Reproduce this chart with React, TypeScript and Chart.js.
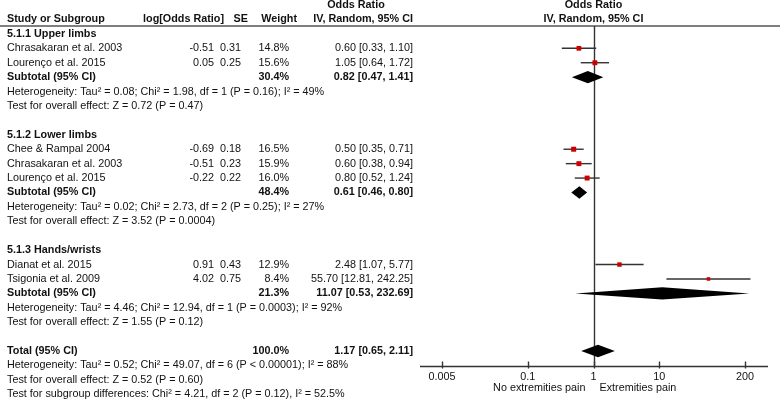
import React, { useEffect, useRef } from 'react';
import { Chart, registerables } from 'chart.js';

Chart.register(...registerables);

// ---------------- data ----------------
const groupTitles = ['5.1.1 Upper limbs', '5.1.2 Lower limbs', '5.1.3 Hands/wrists'];
const studyNames = [
  'Chrasakaran et al. 2003',
  'Lourenço et al. 2015',
  'Chee & Rampal 2004',
  'Chrasakaran et al. 2003',
  'Lourenço et al. 2015',
  'Dianat et al. 2015',
  'Tsigonia et al. 2009',
];
const studyGroup = [0, 0, 1, 1, 1, 2, 2];
const logOR = [-0.51, 0.05, -0.69, -0.51, -0.22, 0.91, 4.02];
const seValues = [0.31, 0.25, 0.18, 0.23, 0.22, 0.43, 0.75];
const weights = [14.8, 15.6, 16.5, 15.9, 16.0, 12.9, 8.4];
const orEst = [0.6, 1.05, 0.5, 0.6, 0.8, 2.48, 55.7];
const orLow = [0.33, 0.64, 0.35, 0.38, 0.52, 1.07, 12.81];
const orHigh = [1.1, 1.72, 0.71, 0.94, 1.24, 5.77, 242.25];

const subWeights = [30.4, 48.4, 21.3];
const subEst = [0.82, 0.61, 11.07];
const subLow = [0.47, 0.46, 0.53];
const subHigh = [1.41, 0.8, 232.69];
const hetTexts = [
  'Heterogeneity: Tau² = 0.08; Chi² = 1.98, df = 1 (P = 0.16); I² = 49%',
  'Heterogeneity: Tau² = 0.02; Chi² = 2.73, df = 2 (P = 0.25); I² = 27%',
  'Heterogeneity: Tau² = 4.46; Chi² = 12.94, df = 1 (P = 0.0003); I² = 92%',
];
const effectTexts = [
  'Test for overall effect: Z = 0.72 (P = 0.47)',
  'Test for overall effect: Z = 3.52 (P = 0.0004)',
  'Test for overall effect: Z = 1.55 (P = 0.12)',
];

const totalWeight = 100.0;
const totalEst = 1.17;
const totalLow = 0.65;
const totalHigh = 2.11;
const totalNotes = [
  'Heterogeneity: Tau² = 0.52; Chi² = 49.07, df = 6 (P < 0.00001); I² = 88%',
  'Test for overall effect: Z = 0.52 (P = 0.60)',
  'Test for subgroup differences: Chi² = 4.21, df = 2 (P = 0.12), I² = 52.5%',
];

const xTicks = [0.005, 0.1, 1, 10, 200];
const xTickLabels = ['0.005', '0.1', '1', '10', '200'];
const favourLeft = 'No extremities pain';
const favourRight = 'Extremities pain';
const headerCols = ['Study or Subgroup', 'log[Odds Ratio]', 'SE', 'Weight', 'Odds Ratio', 'IV, Random, 95% CI'];

// ---------------- layout / style ----------------
const W = 780;
const H = 404;
const FONT = '"Liberation Sans", Arial, Helvetica, sans-serif';
const FS = 10.8;
const TXT = '#111';
const LINE = '#333';
const RED = '#cc0000';
const COL_NAME_X = 7;
const COL_LOG_R = 214;
const COL_SE_R = 241;
const COL_W_R = 289;
const COL_OR_R = 413;
const HDR_LOG_R = 224;
const HDR_SE_R = 248;
const HDR_W_R = 297;
const HDR_OR_C = 356;
const DIAMOND_HALF = 6.2;

type Row = { k: number; kind: string; idx: number };

function buildRows(): { rows: Row[]; studyRow: number[]; subRow: number[]; totalRow: number } {
  const rows: Row[] = [];
  const studyRow: number[] = [];
  const subRow: number[] = [];
  let k = 0;
  groupTitles.forEach((_, g) => {
    rows.push({ k, kind: 'group', idx: g });
    k++;
    studyNames.forEach((_, i) => {
      if (studyGroup[i] === g) {
        rows.push({ k, kind: 'study', idx: i });
        studyRow[i] = k;
        k++;
      }
    });
    rows.push({ k, kind: 'subtotal', idx: g });
    subRow[g] = k;
    k++;
    rows.push({ k, kind: 'het', idx: g });
    k++;
    rows.push({ k, kind: 'effect', idx: g });
    k += 2;
  });
  const totalRow = k;
  rows.push({ k, kind: 'total', idx: 0 });
  k++;
  totalNotes.forEach((_, j) => {
    rows.push({ k, kind: 'note', idx: j });
    k++;
  });
  return { rows, studyRow, subRow, totalRow };
}

const fmtCI = (e: number, l: number, h: number) => `${e.toFixed(2)} [${l.toFixed(2)}, ${h.toFixed(2)}]`;

export default function App() {
  const ref = useRef<HTMLCanvasElement | null>(null);

  useEffect(() => {
    const canvas = ref.current;
    if (!canvas) return;
    const { rows, studyRow, subRow, totalRow } = buildRows();

    const ciDatasets = studyNames.map((_, i) => ({
      type: 'line' as const,
      data: [
        { x: orLow[i], y: studyRow[i] },
        { x: orHigh[i], y: studyRow[i] },
      ],
      borderColor: LINE,
      borderWidth: 1.4,
      pointRadius: 0,
      showLine: true,
      clip: false as any,
      order: 2,
    }));

    const markerDataset = {
      type: 'scatter' as const,
      data: studyNames.map((_, i) => ({ x: orEst[i], y: studyRow[i] })),
      pointStyle: 'rect' as const,
      pointRadius: weights.map((w) => (5 * Math.sqrt(w / 16.5)) / Math.SQRT2),
      backgroundColor: RED,
      borderWidth: 0,
      clip: false as any,
      order: 1,
    };

    const forestPlugin = {
      id: 'forest',
      beforeDatasetsDraw(chart: any) {
        const { ctx, chartArea } = chart;
        const xs = chart.scales.x;
        ctx.save();
        // header rule
        ctx.strokeStyle = '#555';
        ctx.lineWidth = 1.5;
        ctx.beginPath();
        ctx.moveTo(0, chartArea.top);
        ctx.lineTo(W, chartArea.top);
        ctx.stroke();
        // null line
        const x1 = Math.round(xs.getPixelForValue(1)) + 0.5;
        ctx.strokeStyle = LINE;
        ctx.lineWidth = 1.4;
        ctx.beginPath();
        ctx.moveTo(x1, chartArea.top);
        ctx.lineTo(x1, chartArea.bottom);
        ctx.stroke();
        // axis line
        const yb = Math.round(chartArea.bottom) + 0.5;
        ctx.beginPath();
        ctx.moveTo(420, yb);
        ctx.lineTo(768, yb);
        ctx.stroke();
        xTicks.forEach((v) => {
          const px = Math.round(xs.getPixelForValue(v)) + 0.5;
          ctx.beginPath();
          ctx.moveTo(px, yb - 5);
          ctx.lineTo(px, yb + 2);
          ctx.stroke();
        });
        ctx.restore();
      },
      afterDatasetsDraw(chart: any) {
        const { ctx } = chart;
        const xs = chart.scales.x;
        const ys = chart.scales.y;
        ctx.save();
        ctx.fillStyle = '#000';
        const diamond = (e: number, l: number, h: number, k: number) => {
          const yc = ys.getPixelForValue(k);
          ctx.beginPath();
          ctx.moveTo(xs.getPixelForValue(l), yc);
          ctx.lineTo(xs.getPixelForValue(e), yc - DIAMOND_HALF);
          ctx.lineTo(xs.getPixelForValue(h), yc);
          ctx.lineTo(xs.getPixelForValue(e), yc + DIAMOND_HALF);
          ctx.closePath();
          ctx.fill();
        };
        subEst.forEach((e, g) => diamond(e, subLow[g], subHigh[g], subRow[g]));
        diamond(totalEst, totalLow, totalHigh, totalRow);
        ctx.restore();
      },
      afterDraw(chart: any) {
        const { ctx, chartArea } = chart;
        const xs = chart.scales.x;
        const ys = chart.scales.y;
        const reg = `${FS}px ${FONT}`;
        const bold = `bold ${FS}px ${FONT}`;
        ctx.save();
        ctx.fillStyle = TXT;
        ctx.textBaseline = 'middle';
        const put = (t: string, x: number, y: number, align: CanvasTextAlign, b: boolean) => {
          ctx.font = b ? bold : reg;
          ctx.textAlign = align;
          ctx.fillText(t, x, y);
        };
        // headers
        const yH1 = ys.getPixelForValue(-2);
        const yH2 = ys.getPixelForValue(-1);
        const xNull = xs.getPixelForValue(1);
        put(headerCols[0], COL_NAME_X, yH2, 'left', true);
        put(headerCols[1], HDR_LOG_R, yH2, 'right', true);
        put(headerCols[2], HDR_SE_R, yH2, 'right', true);
        put(headerCols[3], HDR_W_R, yH2, 'right', true);
        put(headerCols[4], HDR_OR_C, yH1, 'center', true);
        put(headerCols[5], COL_OR_R, yH2, 'right', true);
        put(headerCols[4], xNull, yH1, 'center', true);
        put(headerCols[5], xNull, yH2, 'center', true);

        rows.forEach((r) => {
          const y = ys.getPixelForValue(r.k);
          if (r.kind === 'group') {
            put(groupTitles[r.idx], COL_NAME_X, y, 'left', true);
          } else if (r.kind === 'study') {
            const i = r.idx;
            put(studyNames[i], COL_NAME_X, y, 'left', false);
            put(logOR[i].toFixed(2), COL_LOG_R, y, 'right', false);
            put(seValues[i].toFixed(2), COL_SE_R, y, 'right', false);
            put(`${weights[i].toFixed(1)}%`, COL_W_R, y, 'right', false);
            put(fmtCI(orEst[i], orLow[i], orHigh[i]), COL_OR_R, y, 'right', false);
          } else if (r.kind === 'subtotal') {
            const g = r.idx;
            put('Subtotal (95% CI)', COL_NAME_X, y, 'left', true);
            put(`${subWeights[g].toFixed(1)}%`, COL_W_R, y, 'right', true);
            put(fmtCI(subEst[g], subLow[g], subHigh[g]), COL_OR_R, y, 'right', true);
          } else if (r.kind === 'het') {
            put(hetTexts[r.idx], COL_NAME_X, y, 'left', false);
          } else if (r.kind === 'effect') {
            put(effectTexts[r.idx], COL_NAME_X, y, 'left', false);
          } else if (r.kind === 'total') {
            put('Total (95% CI)', COL_NAME_X, y, 'left', true);
            put(`${totalWeight.toFixed(1)}%`, COL_W_R, y, 'right', true);
            put(fmtCI(totalEst, totalLow, totalHigh), COL_OR_R, y, 'right', true);
          } else if (r.kind === 'note') {
            put(totalNotes[r.idx], COL_NAME_X, y, 'left', false);
          }
        });
        // favours labels
        const yF = chartArea.bottom + 22;
        put(favourLeft, xNull - 8, yF, 'right', false);
        put(favourRight, xNull + 6, yF, 'left', false);
        ctx.restore();
      },
    };

    const chart = new Chart(canvas, {
      type: 'scatter',
      data: { datasets: [markerDataset as any, ...(ciDatasets as any[])] },
      options: {
        animation: false,
        responsive: false,
        events: [],
        layout: { padding: { left: 442, right: 35, top: 26, bottom: 15 } },
        plugins: { legend: { display: false }, tooltip: { enabled: false } },
        scales: {
          x: {
            type: 'logarithmic',
            min: 0.005,
            max: 200,
            position: 'bottom',
            grid: { display: false, drawTicks: false },
            border: { display: false },
            afterBuildTicks: (scale: any) => {
              scale.ticks = xTicks.map((v) => ({ value: v }));
            },
            ticks: {
              autoSkip: false,
              maxRotation: 0,
              padding: 5,
              color: TXT,
              font: { family: FONT, size: FS },
              callback: (_v: any, i: number) => xTickLabels[i],
            },
          },
          y: {
            type: 'linear',
            min: -0.548,
            max: 23.04,
            reverse: true,
            display: false,
          },
        },
      },
      plugins: [forestPlugin],
    });
    return () => chart.destroy();
  }, []);

  return (
    <div style={{ position: 'absolute', left: 0, top: 0, width: W, height: H, background: '#fff' }}>
      <canvas ref={ref} width={W} height={H} style={{ width: W, height: H, display: 'block' }} />
    </div>
  );
}
